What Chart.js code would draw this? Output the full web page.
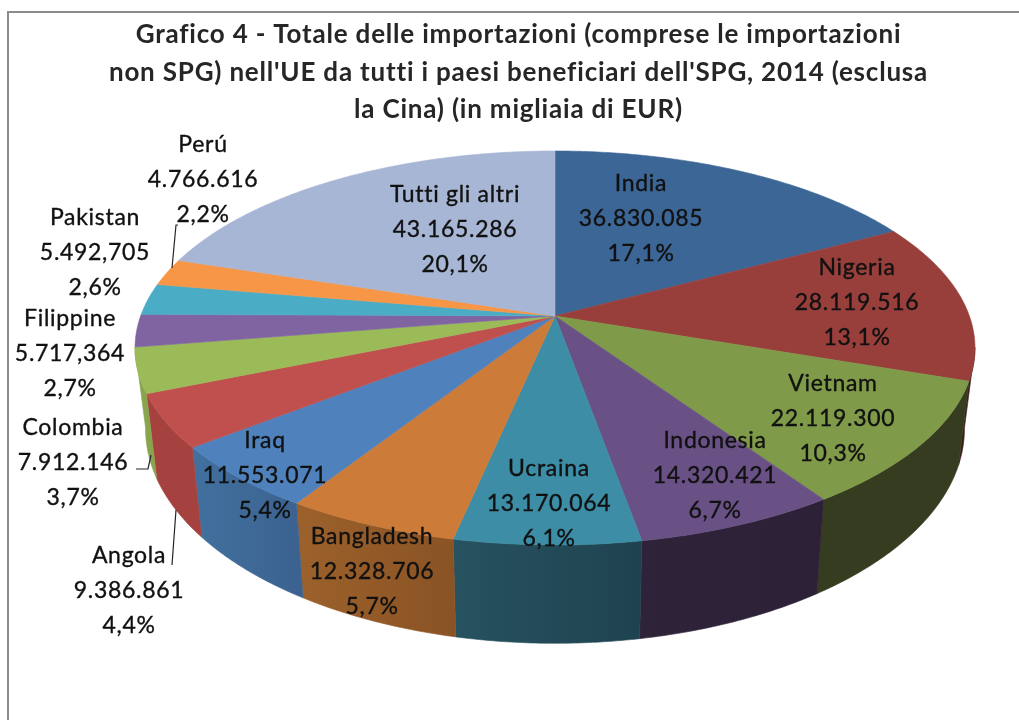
<!DOCTYPE html>
<html lang="it">
<head>
<meta charset="utf-8">
<title>Grafico 4</title>
<script src="https://cdn.jsdelivr.net/npm/chart.js@4"></script>
<style>html,body{margin:0;padding:0;background:#fff}canvas{display:block}</style>
</head>
<body>
<canvas id="c" width="1019" height="720"></canvas>
<script>
const titleLines = ["Grafico 4 - Totale delle importazioni (comprese le importazioni",
  "non SPG) nell'UE da tutti i paesi beneficiari dell'SPG, 2014 (esclusa",
  "la Cina) (in migliaia di EUR)"];
const categories = ["India","Nigeria","Vietnam","Indonesia","Ucraina","Bangladesh","Iraq","Angola","Colombia","Filippine","Pakistan","Perú","Tutti gli altri"];
const values = [36830085,28119516,22119300,14320421,13170064,12328706,11553071,9386861,7912146,5717364,5492705,4766616,43165286];
const valueLabels = ["36.830.085","28.119.516","22.119.300","14.320.421","13.170.064","12.328.706","11.553.071","9.386.861","7.912.146","5.717,364","5.492,705","4.766.616","43.165.286"];
const percentLabels = ["17,1%","13,1%","10,3%","6,7%","6,1%","5,7%","5,4%","4,4%","3,7%","2,7%","2,6%","2,2%","20,1%"];

const topColors = ["#3C6696","#983F3C","#7F9A48","#695185","#3C8DA5","#CC7B38","#4F81BD","#C0504D","#9BBB59","#8064A2","#4BACC6","#F79646","#A7B6D5"];
const wallLeft  = ["#2a2a40","#3A1C1A","#363C1F","#2F2339","#27525F","#9C612B","#42719F","#A5413E","#88A44D","#6a5288","#3f91a8","#d07e3a","#8c99b4"];
const wallRight = ["#2a2a40","#3A1C1A","#363C1F","#2C2136","#1F4250","#8A5325","#3B618F","#A5413E","#88A44D","#6a5288","#3f91a8","#d07e3a","#8c99b4"];

// label centres (x, first-line y) and line pitch
const labelX = [641,857,833,715,549,372,265,129,73,70,95,203,455];
const labelY = [184,268,384,441,469,537,441,556,428,319,218,145,195];
const labelPitch = 35;
const leaders = [[[178,225],[176,225],[172,268]],[[136,469],[148,469],[151,455]],[[176,510],[172,565]]];

// projection of the tilted disc
const CX = 555, TOPY = 316, P = 0.1624;
const topFace = {b:414.4, a:191.8, y0:TOPY};
const botFace = {b:404.0, a:208.8, y0:394};
function proj(face, ang){
  const u = Math.cos(ang), v = Math.sin(ang), d = 1 - P*v;
  return [CX + face.b*u/d, face.y0 + face.a*v/d];
}
const disc3d = {
  id:'disc3d',
  beforeDraw(chart){ chart.ctx.letterSpacing='0.8px'; },
  beforeDatasetDraw(chart,args){
    const ctx = chart.ctx, arcs = args.meta.data;
    // side walls, one polygon per slice (visible front part only)
    arcs.forEach((el,i)=>{
      const n = Math.max(8,Math.ceil((el.endAngle-el.startAngle)/0.01));
      const upper=[], lower=[];
      for(let k=0;k<=n;k++){
        const a = el.startAngle+(el.endAngle-el.startAngle)*k/n;
        if(Math.sin(a) >= P-0.005){ upper.push(proj(topFace,a)); lower.push(proj(botFace,a)); }
      }
      if(upper.length<2) return;
      const xs = upper.concat(lower).map(p=>p[0]);
      const g = ctx.createLinearGradient(Math.min(...xs),0,Math.max(...xs),0);
      g.addColorStop(0,wallLeft[i]); g.addColorStop(1,wallRight[i]);
      ctx.beginPath();
      upper.forEach((p,k)=>k?ctx.lineTo(...p):ctx.moveTo(...p));
      lower.reverse().forEach(p=>ctx.lineTo(...p));
      ctx.closePath();
      ctx.fillStyle=g;ctx.strokeStyle=g;ctx.lineWidth=.6;ctx.fill();ctx.stroke();
    });
    // top face
    arcs.forEach((el,i)=>{
      const s = el.startAngle, e = el.endAngle, n = Math.max(4,Math.ceil((e-s)/0.01));
      ctx.beginPath();ctx.moveTo(CX,TOPY);
      for(let k=0;k<=n;k++) ctx.lineTo(...proj(topFace,s+(e-s)*k/n));
      ctx.closePath();
      ctx.fillStyle=el.options.backgroundColor;ctx.strokeStyle=el.options.backgroundColor;ctx.lineWidth=.6;
      ctx.fill();ctx.stroke();
    });
    return false;
  },
  afterDraw(chart){
    const ctx = chart.ctx;
    ctx.save();
    ctx.strokeStyle='#8c8c8c';ctx.lineWidth=2;
    ctx.beginPath();ctx.moveTo(8,720);ctx.lineTo(8,12);ctx.lineTo(1019,12);ctx.stroke();
    ctx.strokeStyle='#262626';ctx.lineWidth=1.2;
    leaders.forEach(l=>{ctx.beginPath();l.forEach((p,i)=>i?ctx.lineTo(...p):ctx.moveTo(...p));ctx.stroke();});
    ctx.letterSpacing='0.7px';
    ctx.fillStyle='#111';ctx.strokeStyle='#111';ctx.lineWidth=.35;ctx.font='23px Lato';ctx.textAlign='center';ctx.textBaseline='middle';
    categories.forEach((name,i)=>{
      [name,valueLabels[i],percentLabels[i]].forEach((t,j)=>{
        ctx.fillText(t,labelX[i],labelY[i]+j*labelPitch);
        ctx.strokeText(t,labelX[i],labelY[i]+j*labelPitch);
      });
    });
    ctx.restore();
    ctx.letterSpacing='0px';
  }
};
new Chart(document.getElementById('c'),{
  type:'pie',
  data:{labels:categories,datasets:[{data:values,backgroundColor:topColors,borderWidth:0}]},
  options:{
    responsive:false,animation:false,
    layout:{padding:{top:16,left:18,right:0}},
    plugins:{
      legend:{display:false},tooltip:{enabled:false},
      title:{display:true,text:titleLines,color:'#262626',font:{family:'Lato',size:26,weight:'bold',lineHeight:1.44},padding:0}
    }
  },
  plugins:[disc3d]
});
</script>
</body>
</html>
